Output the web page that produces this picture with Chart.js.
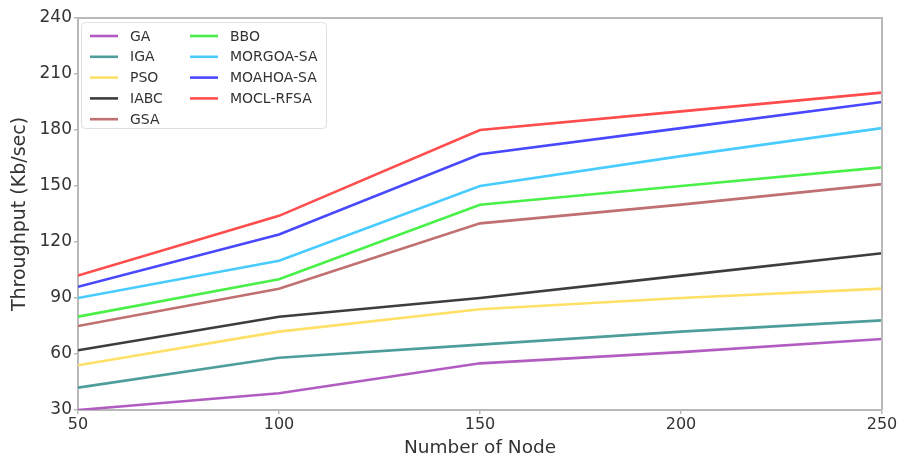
<!DOCTYPE html>
<html>
<head>
<meta charset="utf-8">
<script src="https://cdn.jsdelivr.net/npm/chart.js@4.4.1/dist/chart.umd.min.js"></script>
<style>
  html, body { margin: 0; padding: 0; background: #fff; }
  #wrap { width: 904px; height: 459px; position: relative; }
</style>
</head>
<body>
<div id="wrap"><canvas id="c" width="904" height="459"></canvas></div>
<script>
// Number of nodes on the x axis
const nodes = [50, 100, 150, 200, 250];

// Throughput (Kb/sec) per algorithm
const GA        = [30, 39, 55, 61, 68];
const IGA       = [42, 58, 65, 72, 78];
const PSO       = [54, 72, 84, 90, 95];
const IABC      = [62, 80, 90, 102, 114];
const GSA       = [75, 95, 130, 140, 151];
const BBO       = [80, 100, 140, 150, 160];
const MORGOA_SA = [90, 110, 150, 166, 181];
const MOAHOA_SA = [96, 124, 167, 181, 195];
const MOCL_RFSA = [102, 134, 180, 190, 200];

const seriesNames = ['GA', 'IGA', 'PSO', 'IABC', 'GSA', 'BBO', 'MORGOA-SA', 'MOAHOA-SA', 'MOCL-RFSA'];
const seriesData  = [GA, IGA, PSO, IABC, GSA, BBO, MORGOA_SA, MOAHOA_SA, MOCL_RFSA];
const seriesColors = ['#b25cc2', '#4d9e9a', '#ffe066', '#3d3d3d', '#c07070', '#48f048', '#48ccff', '#4848ff', '#ff4c4c'];

const yTicks = [30, 60, 90, 120, 150, 180, 210, 240];

const datasets = seriesNames.map((name, i) => ({
  label: name,
  data: seriesData[i].map((v, j) => ({ x: nodes[j], y: v })),
  borderColor: seriesColors[i],
  backgroundColor: seriesColors[i],
  borderWidth: 2.6,
  pointRadius: 0,
  tension: 0,
  fill: false
}));

const FONT = '"DejaVu Sans", sans-serif';
const AXIS_COLOR = '#b9b9b9';

// Top/right spines plus a two-column legend box
const framePlugin = {
  id: 'frame',
  afterDraw(chart) {
    const { ctx, chartArea: a } = chart;
    ctx.save();
    ctx.strokeStyle = AXIS_COLOR;
    ctx.lineWidth = 2;
    ctx.beginPath();
    ctx.moveTo(a.left, a.top);
    ctx.lineTo(a.right, a.top);
    ctx.lineTo(a.right, a.bottom);
    ctx.stroke();

    // legend
    const bx = a.left + 3, by = a.top + 4, bw = 245, bh = 106;
    ctx.fillStyle = 'rgba(255,255,255,0.85)';
    ctx.strokeStyle = '#e0e0e0';
    ctx.lineWidth = 1;
    ctx.beginPath();
    ctx.roundRect(bx + 0.5, by + 0.5, bw, bh, 4);
    ctx.fill();
    ctx.stroke();

    const rows = 5, rowH = 20.8;
    const colX = [bx + 9, bx + 109];
    ctx.font = '14px ' + FONT;
    ctx.textBaseline = 'middle';
    chart.data.datasets.forEach((ds, i) => {
      const col = Math.floor(i / rows), row = i % rows;
      const x = colX[col], y = by + 14 + row * rowH;
      ctx.strokeStyle = ds.borderColor;
      ctx.lineWidth = 2.6;
      ctx.beginPath();
      ctx.moveTo(x, y);
      ctx.lineTo(x + 28, y);
      ctx.stroke();
      ctx.fillStyle = '#333';
      ctx.fillText(ds.label, x + 40, y + 1);
    });
    ctx.restore();
  }
};

new Chart(document.getElementById('c'), {
  type: 'line',
  data: { datasets },
  plugins: [framePlugin],
  options: {
    responsive: false,
    animation: false,
    events: [],
    layout: { padding: { left: 0, right: 22, top: 18, bottom: 0 } },
    plugins: { legend: { display: false }, tooltip: { enabled: false } },
    scales: {
      x: {
        type: 'linear',
        min: 50, max: 250,
        afterBuildTicks(scale) { scale.ticks = nodes.map(v => ({ value: v })); },
        afterFit(scale) { scale.height = 49; },
        grid: { drawOnChartArea: false, drawTicks: true, tickLength: 4, color: AXIS_COLOR, lineWidth: 1.5 },
        border: { display: true, color: AXIS_COLOR, width: 2 },
        ticks: { color: '#333', font: { family: FONT, size: 16 }, padding: 1, maxRotation: 0 },
        title: { display: true, text: 'Number of Node', color: '#333', font: { family: FONT, size: 18.5 }, padding: { top: 0, bottom: 0 } }
      },
      y: {
        type: 'linear',
        min: 30, max: 240,
        afterBuildTicks(scale) { scale.ticks = yTicks.map(v => ({ value: v })); },
        afterFit(scale) { scale.width = 78; },
        grid: { drawOnChartArea: false, drawTicks: true, tickLength: 4, color: AXIS_COLOR, lineWidth: 1.5 },
        border: { display: true, color: AXIS_COLOR, width: 2 },
        ticks: { color: '#333', font: { family: FONT, size: 17 }, padding: 2 },
        title: { display: true, text: 'Throughput (Kb/sec)', color: '#333', font: { family: FONT, size: 19 }, padding: { top: 9, bottom: 0 } }
      }
    }
  }
});
</script>
</body>
</html>
